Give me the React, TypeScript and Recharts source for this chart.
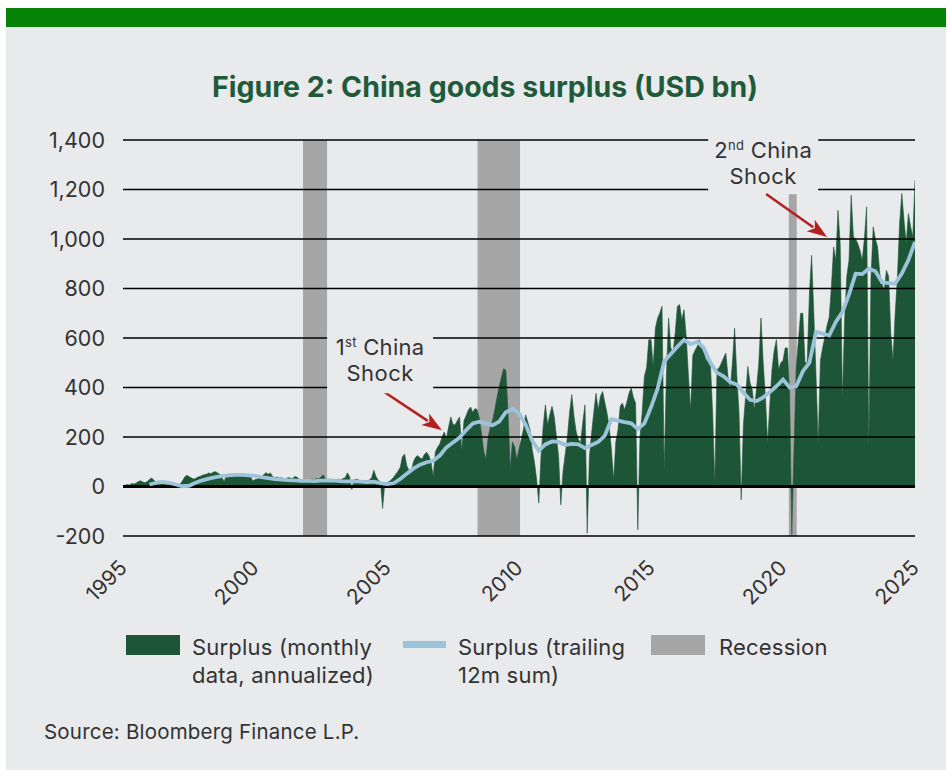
import React from 'react';
import {
  ComposedChart,
  Area,
  Line,
  XAxis,
  YAxis,
  ReferenceArea,
  ReferenceLine,
  ReferenceDot,
} from 'recharts';

// ---------- DATA ----------
// Monthly goods surplus, annualized (USD bn), Jan of each year first
const surplus1995to1999 = [
  3, 5, 8, 6, 12, 10, 14, 20, 23, 18, 15, 20,
  28, 34, 26, 18, 22, 15, 12, 10, 8, 10, 6, 3,
  0, 2, 10, 22, 38, 45, 40, 35, 30, 32, 38, 40,
  45, 48, 50, 55, 52, 58, 60, 55, 50, 35, 20, 45,
  48, 46, 44, 46, 48, 45, 47, 44, 46, 44, 40, 22,
];
const surplus2000to2004 = [
  28, 30, 35, 40, 48, 56, 50, 55, 40, 35, 38, 34,
  35, 33, 30, 36, 34, 32, 40, 38, 30, 28, 26, 28,
  24, 26, 30, 28, 32, 30, 38, 47, 30, 28, 30, 27,
  25, 28, 30, 26, 32, 35, 55, 40, -12, 28, 30, 28,
  20, 22, 25, 22, 26, 35, 66, 40, 25, 20, -89, 15,
];
const surplus2005to2009 = [
  16, 20, 28, 37, 50, 62, 77, 120, 131, 84, 65, 57,
  100, 118, 125, 115, 111, 130, 138, 125, 100, 40, 140, 159,
  172, 200, 220, 195, 240, 281, 250, 250, 267, 281, 145, 267,
  287, 310, 321, 300, 315, 310, 275, 210, 140, 111, 200, 240,
  267, 310, 360, 403, 440, 476, 470, 300, 70, 180, 162, 108,
];
const surplus2010to2014 = [
  150, 189, 230, 290, 260, 229, 150, 100, 30, -67, 121, 243,
  330, 250, 290, 324, 283, 202, 121, -74, 60, 130, 200, 300,
  371, 283, 220, 190, 175, 260, 330, -189, 120, 216, 300, 377,
  310, 364, 384, 340, 297, 243, 150, 27, 180, 229, 324, 337,
  310, 340, 377, 398, 360, 337, -175, 200, 300, 445, 480, 593,
];
const surplus2015to2019 = [
  593, 485, 640, 680, 701, 728, 67, 450, 681, 560, 540, 620,
  728, 735, 674, 714, 607, 450, 310, 530, 550, 566, 593, 560,
  540, 512, 505, 499, 300, 13, 472, 480, 499, 520, 539, 445,
  391, 499, 640, 450, 300, -54, 250, 364, 485, 420, 391, 310,
  400, 499, 681, 500, 364, 175, 330, 472, 550, 593, 472, 500,
];
const surplus2020to2025 = [
  509, 560, 560, 374, -193, 150, 480, 590, 700, 700, 500, 500,
  779, 934, 700, 450, 171, 509, 560, 603, 650, 684, 806, 968,
  914, 1116, 981, 347, 671, 850, 914, 1177, 1008, 1000, 981, 954,
  914, 1000, 1130, 158, 846, 1049, 1000, 968, 860, 820, 792, 873,
  850, 617, 509, 700, 846, 1062, 1184, 1076, 981, 1103, 1050, 1008,
  1238,
];

// Trailing 12m sum (USD bn), quarterly readings starting Q1 1996
const trailing1996to2005 = [
  8, 15, 19, 15,
  8, 1, 3, 15,
  25, 32, 38, 42,
  45, 47, 47, 45,
  43, 38, 34, 30,
  28, 26, 25, 23,
  23, 22, 24, 25,
  24, 22, 21, 22,
  20, 18, 20, 14,
  10, 13, 30, 52,
];
const trailing2006to2015 = [
  72, 88, 98, 104,
  125, 158, 178, 198,
  228, 255, 262, 254,
  248, 262, 300, 314,
  295, 250, 185, 145,
  170, 182, 180, 168,
  172, 170, 155, 168,
  180, 205, 272, 266,
  260, 255, 232, 255,
  320, 395, 505, 535,
];
const trailing2016to2025 = [
  565, 592, 575, 585,
  560, 500, 460, 445,
  422, 412, 380, 350,
  345, 360, 382, 405,
  432, 400, 405, 465,
  500, 625, 618, 610,
  665, 705, 775, 860,
  858, 880, 870, 825,
  822, 820, 860, 915,
  988,
];

const recessionStart = [2001.82, 2008.43, 2020.22];
const recessionEnd = [2002.73, 2010.04, 2020.52];
const recessionTop = [1400, 1400, 1181];

const xTicks = [1995, 2000, 2005, 2010, 2015, 2020, 2025];
const yTicks = [-200, 0, 200, 400, 600, 800, 1000, 1200, 1400];

const monthlyValues = [
  ...surplus1995to1999,
  ...surplus2000to2004,
  ...surplus2005to2009,
  ...surplus2010to2014,
  ...surplus2015to2019,
  ...surplus2020to2025,
];
const monthlyData = monthlyValues.map((v, i) => ({ t: 1995 + i / 12, v }));

const trailingValues = [...trailing1996to2005, ...trailing2006to2015, ...trailing2016to2025];
const trailingData = trailingValues.map((v, i) => ({ t: 1996 + i / 4, v }));

// ---------- STYLE ----------
const PANEL = '#E9EAEC';
const DARK_GREEN = '#1D5537';
const LIGHT_BLUE = '#9CC3DA';
const REC_GREY = '#A6A6A6';
const TEXT = '#333333';
const ARROW = '#B3201F';
const FONT = 'Inter, "DejaVu Sans", sans-serif';

const XTick = (props: any) => {
  const { x, y, payload } = props;
  return (
    <text
      x={x}
      y={y + 26}
      dy="0.35em"
      textAnchor="end"
      transform={`rotate(-45, ${x}, ${y + 26})`}
      fill={TEXT}
      fontSize={21}
      fontFamily={FONT}
    >
      {payload.value}
    </text>
  );
};

const ArrowShape = (props: any) => {
  const { x1, y1, x2, y2 } = props;
  if ([x1, y1, x2, y2].some((n) => typeof n !== 'number' || isNaN(n))) return null;
  const ang = Math.atan2(y2 - y1, x2 - x1);
  const len = 20;
  const half = 7;
  const bx = x2 - len * Math.cos(ang);
  const by = y2 - len * Math.sin(ang);
  const px = -Math.sin(ang);
  const py = Math.cos(ang);
  return (
    <g>
      <line x1={x1} y1={y1} x2={bx + 3 * Math.cos(ang)} y2={by + 3 * Math.sin(ang)} stroke={ARROW} strokeWidth={2.5} />
      <polygon
        points={`${x2},${y2} ${bx + px * half},${by + py * half} ${bx + 5 * Math.cos(ang)},${by + 5 * Math.sin(ang)} ${bx - px * half},${by - py * half}`}
        fill={ARROW}
      />
    </g>
  );
};

const makeLabelShape = (sup: string, w: number, top: number, bottom: number) => (props: any) => {
  const { cx, cy } = props;
  if (typeof cx !== 'number' || typeof cy !== 'number') return null;
  return (
    <g>
      <rect x={cx - w / 2} y={cy - top} width={w} height={top + bottom} fill={PANEL} />
      <text x={cx} y={cy - 13} dy="0.35em" textAnchor="middle" fill={TEXT} fontSize={22} fontFamily={FONT} letterSpacing={0.3}>
        <tspan>{sup.charAt(0)}</tspan>
        <tspan fontSize={13} dy={-8}>{sup.slice(1)}</tspan>
        <tspan dy={8}> China</tspan>
      </text>
      <text x={cx} y={cy + 13} dy="0.35em" textAnchor="middle" fill={TEXT} fontSize={22} fontFamily={FONT} letterSpacing={0.5}>
        Shock
      </text>
    </g>
  );
};

const FirstShock = makeLabelShape('1st', 106, 28, 33);
const SecondShock = makeLabelShape('2nd', 110, 31, 28);

const Swatch = ({ left, top, w, h, color }: any) => (
  <div style={{ position: 'absolute', left, top, width: w, height: h, background: color }} />
);

const legendText: React.CSSProperties = {
  position: 'absolute',
  fontFamily: FONT,
  fontSize: 22,
  lineHeight: '28px',
  color: TEXT,
  whiteSpace: 'nowrap',
  letterSpacing: 0.2,
};

export default function App() {
  return (
    <div
      style={{
        position: 'absolute',
        left: 6,
        top: 8,
        width: 940,
        height: 762,
        background: PANEL,
        overflow: 'hidden',
      }}
    >
      <div style={{ position: 'absolute', left: 0, top: 0, width: 940, height: 19, background: '#068206' }} />
      <div
        style={{
          position: 'absolute',
          left: 0,
          width: 958,
          top: 61,
          textAlign: 'center',
          fontFamily: FONT,
          fontWeight: 700,
          fontSize: 28.5,
          color: '#1F5B3A',
          letterSpacing: 0,
        }}
      >
        Figure 2: China goods surplus (USD bn)
      </div>

      <div style={{ position: 'absolute', left: 0, top: 0 }}>
        <ComposedChart
          width={940}
          height={762}
          margin={{ top: 132, right: 31, bottom: 184, left: 17 }}
        >
          <XAxis
            type="number"
            dataKey="t"
            domain={[1995, 2025]}
            ticks={xTicks}
            interval={0}
            allowDataOverflow
            axisLine={false}
            tickLine={false}
            tickSize={0}
            height={50}
            tick={<XTick />}
          />
          <YAxis
            type="number"
            domain={[-200, 1400]}
            ticks={yTicks}
            interval={0}
            allowDataOverflow
            axisLine={false}
            tickLine={false}
            tickSize={0}
            tickMargin={18}
            width={100}
            tickFormatter={(v: number) => v.toLocaleString('en-US')}
            tick={{ fill: TEXT, fontSize: 21.5, fontFamily: FONT }}
          />
          {recessionStart.map((s, i) => (
            <ReferenceArea
              key={`rec${i}`}
              x1={s}
              x2={recessionEnd[i]}
              y1={-200}
              y2={recessionTop[i]}
              fill={REC_GREY}
              fillOpacity={1}
              stroke="none"
              ifOverflow="extendDomain"
            />
          ))}
          <Area
            data={monthlyData}
            dataKey="v"
            type="linear"
            baseValue={0}
            fill={DARK_GREEN}
            fillOpacity={1}
            stroke={DARK_GREEN}
            strokeWidth={0.6}
            dot={false}
            activeDot={false}
            isAnimationActive={false}
          />
          {yTicks.map((v) => (
            <ReferenceLine
              key={`g${v}`}
              y={v}
              stroke="#000"
              strokeWidth={v === 0 ? 3.2 : 1.7}
            />
          ))}
          <Line
            data={trailingData}
            dataKey="v"
            type="linear"
            stroke={LIGHT_BLUE}
            strokeWidth={3.8}
            dot={false}
            activeDot={false}
            isAnimationActive={false}
          />
          <ReferenceDot x={2004.74} y={510} r={1} shape={FirstShock} />
          <ReferenceDot x={2019.25} y={1307} r={1} shape={SecondShock} />
          <ReferenceLine
            segment={[{ x: 2004.74, y: 393 }, { x: 2007.08, y: 227 }]}
            shape={ArrowShape}
          />
          <ReferenceLine
            segment={[{ x: 2019.36, y: 1182 }, { x: 2021.67, y: 1008 }]}
            shape={ArrowShape}
          />
        </ComposedChart>
      </div>

      <Swatch left={120} top={627} w={54} h={20} color={DARK_GREEN} />
      <div style={{ ...legendText, left: 186, top: 625 }}>
        Surplus (monthly
        <br />
        data, annualized)
      </div>
      <Swatch left={397} top={633} w={43} h={7} color={LIGHT_BLUE} />
      <div style={{ ...legendText, left: 452, top: 625 }}>
        Surplus (trailing
        <br />
        12m sum)
      </div>
      <Swatch left={645} top={627} w={54} h={20} color={REC_GREY} />
      <div style={{ ...legendText, left: 713, top: 625 }}>Recession</div>

      <div style={{ ...legendText, left: 38, top: 710, fontSize: 20.5, letterSpacing: 0.2 }}>Source: Bloomberg Finance L.P.</div>
    </div>
  );
}
